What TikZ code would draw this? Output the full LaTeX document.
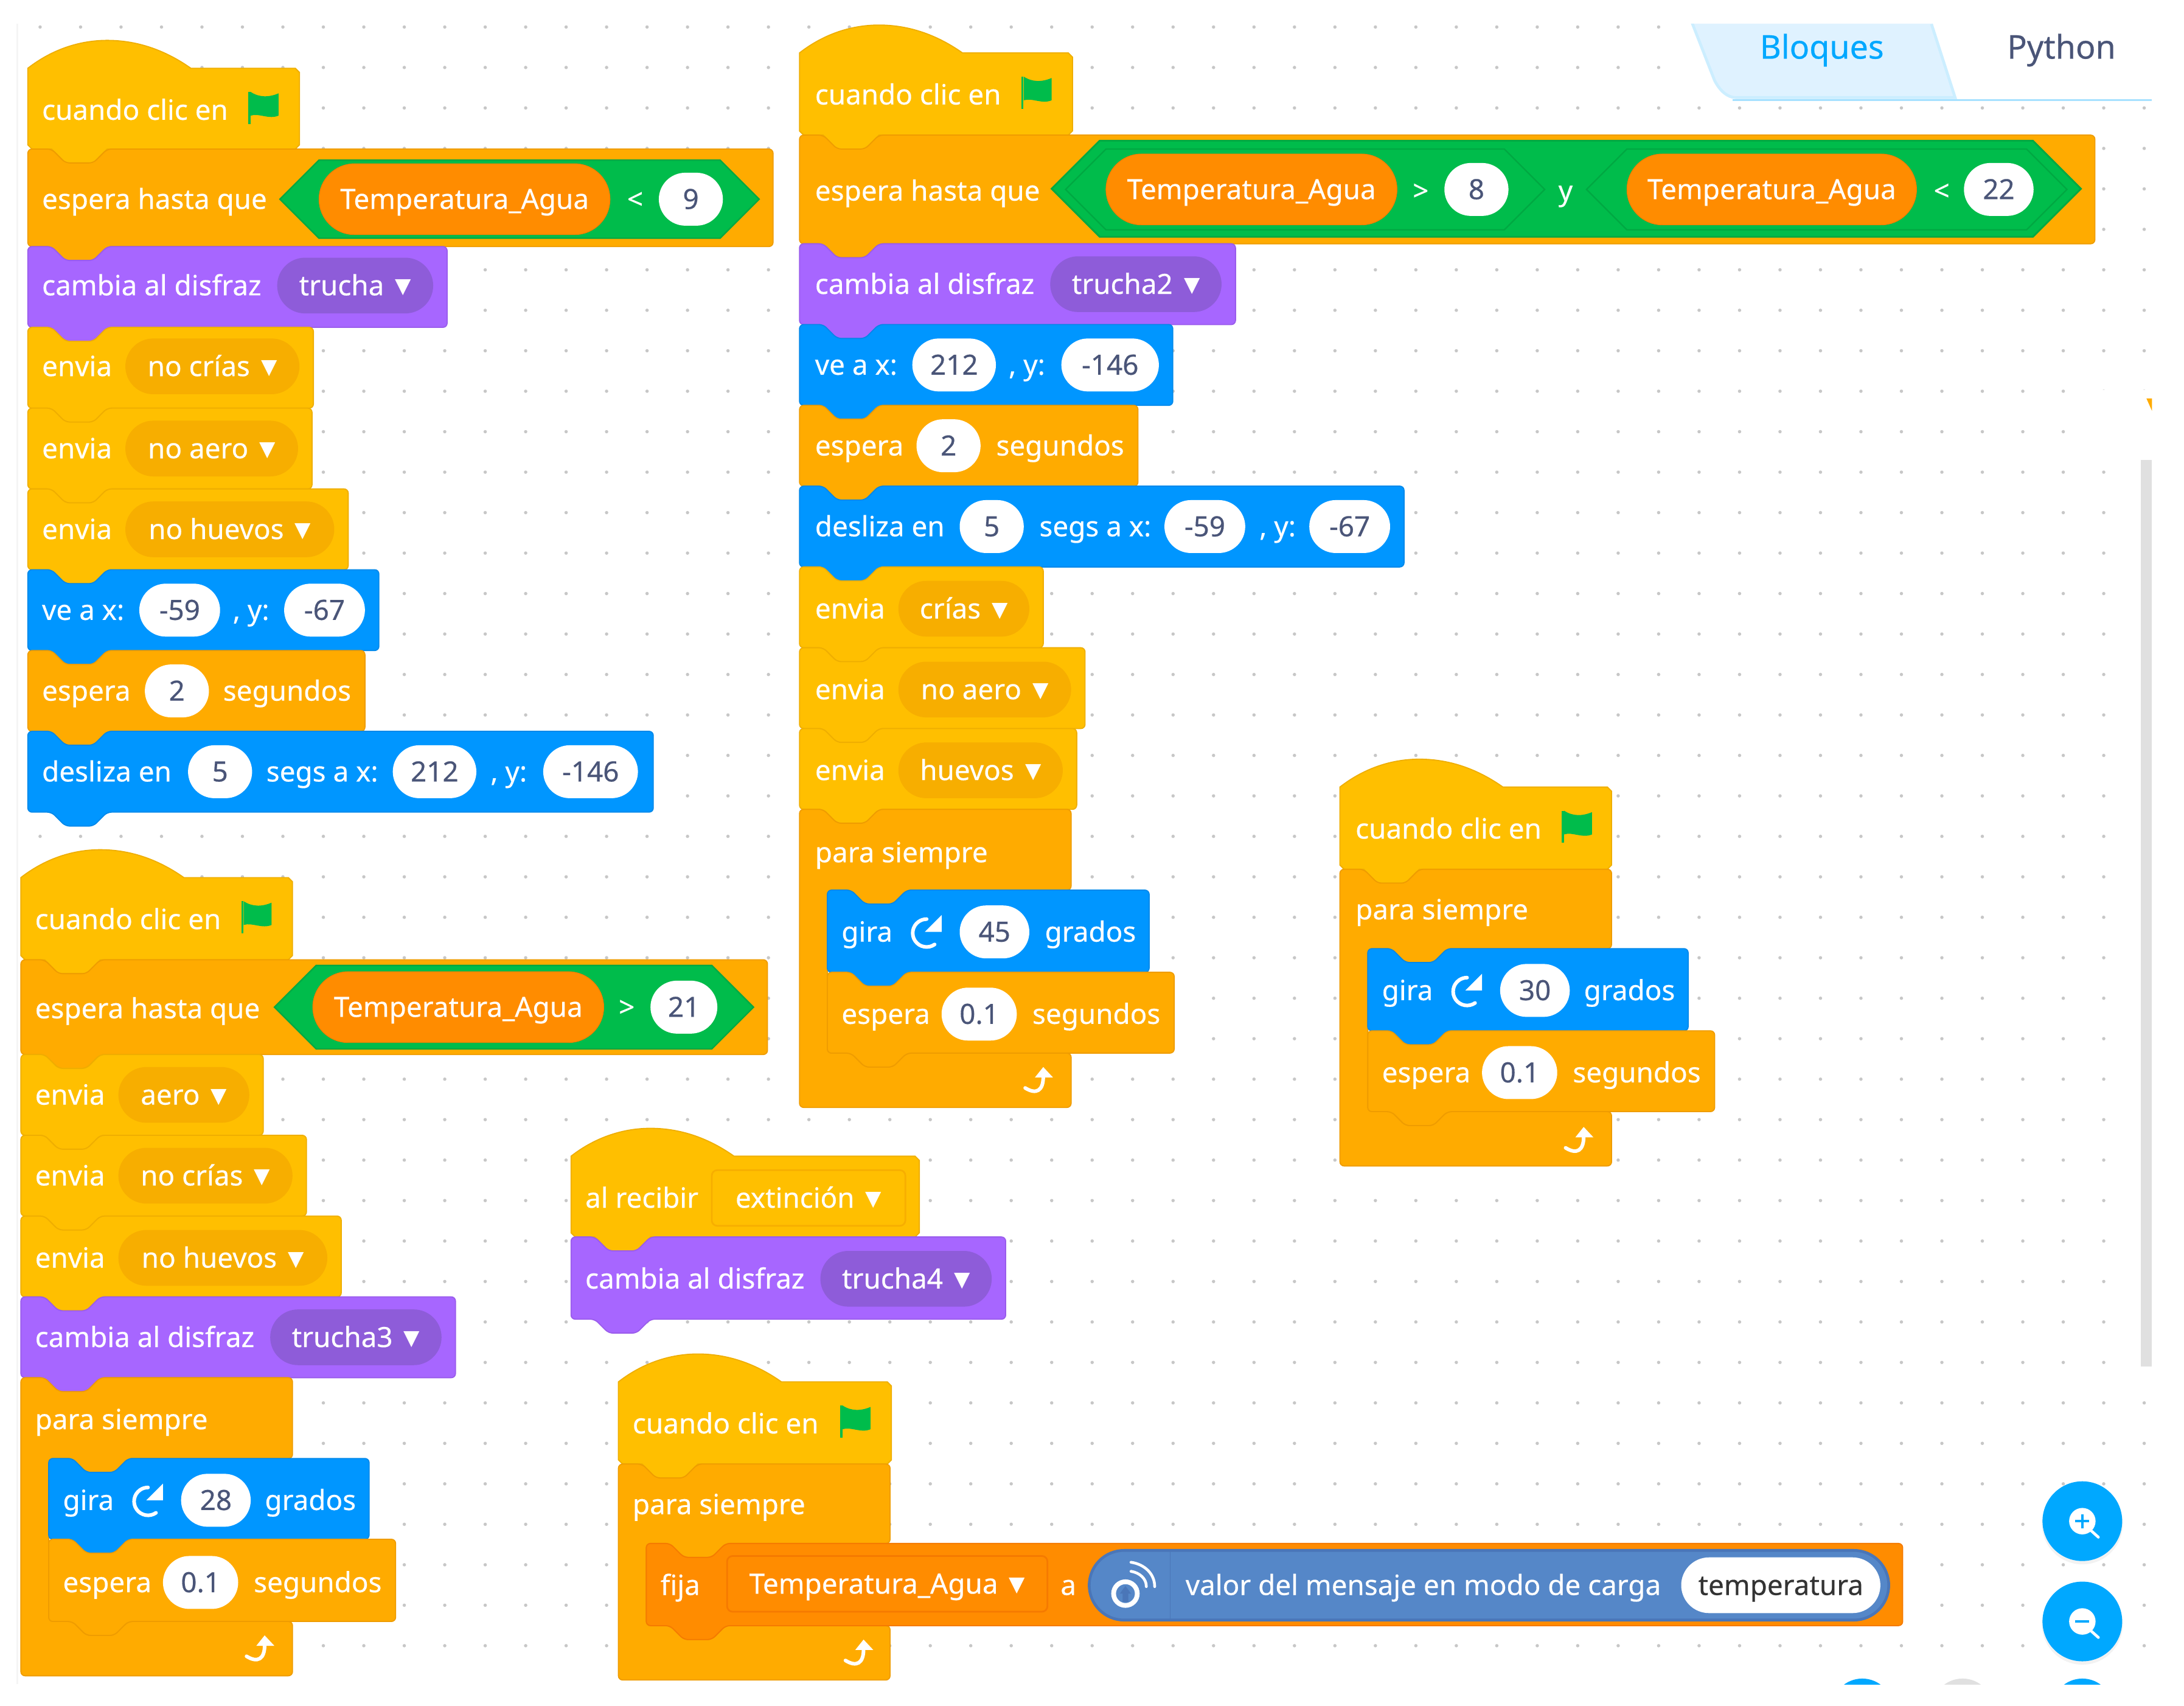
\documentclass[tikz,border=0pt]{standalone}
\usepackage{fontspec}
\setmainfont{Noto Sans}[RawFeature={embolden=0.4}]
\newfontfamily\symf{DejaVu Sans}
\usetikzlibrary{shapes.misc}

\definecolor{hatcol}{HTML}{FFBF00}
\definecolor{hatedge}{HTML}{EFAE00}
\definecolor{hatmenu}{HTML}{F7AE00}
\definecolor{ctrlcol}{HTML}{FFAB00}
\definecolor{ctrledge}{HTML}{EF9C00}
\definecolor{lookcol}{HTML}{A766FF}
\definecolor{lookedge}{HTML}{9A5CEC}
\definecolor{lookmenu}{HTML}{8E5CD9}
\definecolor{movecol}{HTML}{0096FF}
\definecolor{moveedge}{HTML}{0088EA}
\definecolor{opcol}{HTML}{00BC4B}
\definecolor{opedge}{HTML}{00A842}
\definecolor{varcol}{HTML}{FF8C00}
\definecolor{varedge}{HTML}{F57A00}
\definecolor{extcol}{HTML}{5587C8}
\definecolor{extedge}{HTML}{4A76B8}
\definecolor{numtext}{HTML}{4A5578}
\definecolor{tabblue}{HTML}{00A8FF}
\definecolor{tabfill}{HTML}{DFF2FF}

\tikzset{
  hatblk/.style={fill=hatcol,draw=hatedge,line width=.8pt},
  ctrlblk/.style={fill=ctrlcol,draw=ctrledge,line width=.8pt},
  lookblk/.style={fill=lookcol,draw=lookedge,line width=.8pt},
  moveblk/.style={fill=movecol,draw=moveedge,line width=.8pt},
  varblk/.style={fill=varcol,draw=varedge,line width=.8pt},
  blktxt/.style={inner sep=0pt,text height=17pt,text depth=3pt,font=\fontsize{20}{25}\selectfont},
  lbl/.style={anchor=base west,inner sep=0pt,text=white,yshift=-7pt,font=\fontsize{20}{25}\selectfont},
  lblmid/.style={lbl,anchor=base},
  numin/.style={blktxt,rounded rectangle,fill=white,text=numtext,minimum height=38pt},
  menu/.style={blktxt,rounded rectangle,minimum height=40pt,text=white},
  menubox/.style={blktxt,rectangle,rounded corners=4pt,minimum height=40pt,text=white},
  varpill/.style={blktxt,rounded rectangle,fill=varcol,draw=varedge,minimum height=51pt,text=white},
  tabtxt/.style={inner sep=0pt,font=\fontsize{23.5}{30}\selectfont},
  icon/.style={white,line width=2.6pt,line cap=round},
}

\newcommand{\tri}{\hspace{8pt}\raisebox{1.5pt}{\symf\fontsize{15}{15}\selectfont ▼}}

% stack block: style, left, top, right, bottom
\newcommand{\stmt}[5]{\draw[#1,rounded corners=3pt] (#2,#3) -- (#2+17,#3) -- (#2+27,#3+10) -- (#2+47,#3+10) -- (#2+57,#3) -- (#4,#3) -- (#4,#5) -- (#2+57,#5) -- (#2+47,#5+10) -- (#2+27,#5+10) -- (#2+17,#5) -- (#2,#5) -- cycle;}
% hat block: left, top, right, bottom
\newcommand{\hatb}[4]{\draw[hatblk] (#1,#2+20) .. controls (#1+18,#2+6) and (#1+38,#2) .. (#1+57,#2) .. controls (#1+80,#2) and (#1+100,#2+8) .. (#1+117,#2+20) -- (#3-3,#2+20) -- (#3,#2+23) -- (#3,#4-3) -- (#3-3,#4) -- (#1+57,#4) -- (#1+47,#4+10) -- (#1+27,#4+10) -- (#1+17,#4) -- (#1+3,#4) -- (#1,#4-3) -- cycle;}
% forever block: left, top, right, head bottom, foot top, bottom
\newcommand{\loopb}[6]{\draw[ctrlblk,rounded corners=3pt] (#1,#2) -- (#1+17,#2) -- (#1+27,#2+10) -- (#1+47,#2+10) -- (#1+57,#2) -- (#3,#2) -- (#3,#4) -- (#1+77,#4) -- (#1+67,#4+10) -- (#1+47,#4+10) -- (#1+37,#4) -- (#1+20,#4) -- (#1+20,#5) -- (#1+37,#5) -- (#1+47,#5+10) -- (#1+67,#5+10) -- (#1+77,#5) -- (#3,#5) -- (#3,#6) -- (#1,#6) -- cycle;}
% boolean hexagon: left tip, right tip, top, bottom
\newcommand{\hexa}[5]{\draw[#5] (#1,#3/2+#4/2) -- (#1+#4/2-#3/2,#3) -- (#2-#4/2+#3/2,#3) -- (#2,#3/2+#4/2) -- (#2-#4/2+#3/2,#4) -- (#1+#4/2-#3/2,#4) -- cycle;}
\newcommand{\flag}[2]{
  \draw[opcol,line width=1.6pt] (#1-10,#2+11) -- (#1-10,#2-12);
  \fill[opcol] (#1-9,#2-12) .. controls (#1-3,#2-8) and (#1+4,#2-8) .. (#1+11,#2-11) -- (#1+11,#2+5) .. controls (#1+4,#2+8) and (#1-3,#2+3) .. (#1-9,#2+5) -- cycle;}
\newcommand{\turnic}[2]{
  \draw[icon] (#1+6,#2+9) arc[start angle=-55,end angle=-270,radius=10pt];
  \fill[white] (#1+11,#2-12) -- (#1+11,#2) -- (#1-1,#2) -- cycle;}
\newcommand{\repic}[2]{
  \draw[icon] (#1-9,#2+5) .. controls (#1-1,#2+10) and (#1+4,#2+7) .. (#1+4,#2-3);
  \fill[white] (#1+4,#2-10) -- (#1+11,#2-2.5) -- (#1-2,#2-2.5) -- cycle;}
\newcommand{\magn}[2]{
  \fill[white] (#1,#2) circle[radius=9.5pt];
  \draw[white,line width=2pt,line cap=round] (#1+6.5,#2+7) -- (#1+11.5,#2+11.5);}

\begin{document}
\begin{tikzpicture}[x=1pt,y=-1pt]
  \useasboundingbox (0,0) rectangle (1568,1224.7);
  \fill[white] (0,0) rectangle (1568,1224.7);
  % background dots
  \foreach \i in {0,...,52}
    \foreach \j in {0,...,40}
      \fill[black!22] (28.8+\i*29.05,19.4+\j*29.05) circle[radius=1.2pt];
  \fill[white] (1206,0) rectangle (1568,73);
  \fill[white] (1490,280) rectangle (1568,330);
  \fill[white] (1545.5,0) rectangle (1568,1224.7);
  \fill[white] (0,1209) rectangle (1568,1224.7);
  \draw[black!4,line width=1pt] (12.5,17) -- (12.5,1209);
  \fill[black!12] (1537,330) rectangle (1545,981);
  \fill[ctrlcol] (1541,286) -- (1545,286) -- (1545,295) -- cycle;
  % tabs
  \begin{scope}
    \clip (1214,17) -- (1230,58) .. controls (1234,66) and (1240,71) .. (1246,71) -- (1405,71) -- (1387.6,17) -- cycle;
    \fill[tabfill] (1200,10) rectangle (1420,80);
    \draw[tabblue!20,line width=4pt] (1214,17) -- (1230,58) .. controls (1234,66) and (1240,71) .. (1246,71) -- (1405,71) -- (1387.6,17);
  \end{scope}
  \draw[tabblue!35,line width=1.2pt] (1244,72) -- (1545,72);
  \node[tabtxt,text=tabblue] (bloques) at (1308,36) {Bloques};
  \node[tabtxt,text=numtext] (python) at (1480,36) {Python};

  % stack A
  \hatb{20}{29}{215}{107}
  \stmt{ctrlblk}{20}{107}{555}{177}
  \stmt{lookblk}{20}{177}{321}{235}
  \stmt{hatblk}{20}{235}{225}{293}
  \stmt{hatblk}{20}{293}{224}{351}
  \stmt{hatblk}{20}{351}{250}{409}
  \stmt{moveblk}{20}{409}{272}{467}
  \stmt{ctrlblk}{20}{467}{262}{525}
  \stmt{moveblk}{20}{525}{469}{583}
  \node[lbl] (a1) at (30,79) {cuando clic en};
  \flag{189}{78}
  \node[lbl] (a2) at (30,143) {espera hasta que};
  \hexa{201}{545}{115}{171}{fill=opcol,draw=opedge,line width=1pt}
  \node[varpill,minimum width=209pt] (a3) at (333.5,143) {Temperatura\_Agua};
  \node[lblmid] (a4) at (456,143) {<};
  \node[numin,minimum width=46pt] (a5) at (496,143) {9};
  \node[lbl] (a6) at (30,205) {cambia al disfraz};
  \node[menu,fill=lookmenu,minimum width=112pt] (a7) at (255,205) {trucha\tri};
  \node[lbl] (a8) at (30,263) {envia};
  \node[menu,fill=hatmenu,minimum width=125pt] (a9) at (152.5,263) {no crías\tri};
  \node[lbl] (a10) at (30,322) {envia};
  \node[menu,fill=hatmenu,minimum width=124pt] (a11) at (152,322) {no aero\tri};
  \node[lbl] (a12) at (30,380) {envia};
  \node[menu,fill=hatmenu,minimum width=150pt] (a13) at (165,380) {no huevos\tri};
  \node[lbl] (a14) at (30,438) {ve a x:};
  \node[numin,minimum width=58pt] (a15) at (129,438) {-59};
  \node[lbl] (a16) at (167,438) {, y:};
  \node[numin,minimum width=58pt] (a17) at (233,438) {-67};
  \node[lbl] (a18) at (30,496) {espera};
  \node[numin,minimum width=46pt] (a19) at (127,496) {2};
  \node[lbl] (a20) at (160,496) {segundos};
  \node[lbl] (a21) at (30,554) {desliza en};
  \node[numin,minimum width=46pt] (a22) at (158,554) {5};
  \node[lbl] (a23) at (191,554) {segs a x:};
  \node[numin,minimum width=60pt] (a24) at (312,554) {212};
  \node[lbl] (a25) at (352,554) {, y:};
  \node[numin,minimum width=68pt] (a26) at (424,554) {-146};

  % stack B
  \hatb{15}{610}{210}{689}
  \stmt{ctrlblk}{15}{689}{551}{757}
  \stmt{hatblk}{15}{757}{189}{815}
  \stmt{hatblk}{15}{815}{220}{873}
  \stmt{hatblk}{15}{873}{245}{931}
  \stmt{lookblk}{15}{931}{327}{989}
  \loopb{15}{989}{210}{1047}{1164}{1203}
  \stmt{moveblk}{35}{1047}{265}{1105}
  \stmt{ctrlblk}{35}{1105}{284}{1164}
  \node[lbl] (b1) at (25,660) {cuando clic en};
  \flag{184}{659}
  \node[lbl] (b2) at (25,724) {espera hasta que};
  \hexa{197}{541}{693}{753}{fill=opcol,draw=opedge,line width=1pt}
  \node[varpill,minimum width=209pt] (b3) at (329,723) {Temperatura\_Agua};
  \node[lblmid] (b4) at (450,723) {>};
  \node[numin,minimum width=48pt] (b5) at (491,723) {21};
  \node[lbl] (b6) at (25,786) {envia};
  \node[menu,fill=hatmenu,minimum width=94pt] (b7) at (132,786) {aero\tri};
  \node[lbl] (b8) at (25,844) {envia};
  \node[menu,fill=hatmenu,minimum width=125pt] (b9) at (147.5,844) {no crías\tri};
  \node[lbl] (b10) at (25,903) {envia};
  \node[menu,fill=hatmenu,minimum width=150pt] (b11) at (160,903) {no huevos\tri};
  \node[lbl] (b12) at (25,960) {cambia al disfraz};
  \node[menu,fill=lookmenu,minimum width=123pt] (b13) at (255.5,960) {trucha3\tri};
  \node[lbl] (b14) at (25,1019) {para siempre};
  \node[lbl] (b15) at (45,1077) {gira};
  \turnic{106}{1077}
  \node[numin,minimum width=50pt] (b16) at (155,1077) {28};
  \node[lbl] (b17) at (190,1077) {grados};
  \node[lbl] (b18) at (45,1136) {espera};
  \node[numin,minimum width=54pt] (b19) at (144,1136) {0.1};
  \node[lbl] (b20) at (182,1136) {segundos};
  \repic{186}{1184}

  % stack C
  \hatb{574}{18}{770}{97}
  \stmt{ctrlblk}{574}{97}{1504}{175}
  \stmt{lookblk}{574}{175}{887}{233}
  \stmt{moveblk}{574}{233}{842}{291}
  \stmt{ctrlblk}{574}{291}{817}{349}
  \stmt{moveblk}{574}{349}{1008}{407}
  \stmt{hatblk}{574}{407}{749}{465}
  \stmt{hatblk}{574}{465}{779}{523}
  \stmt{hatblk}{574}{523}{773}{581}
  \loopb{574}{581}{769}{639}{756}{795}
  \stmt{moveblk}{594}{639}{825}{698}
  \stmt{ctrlblk}{594}{698}{843}{756}
  \node[lbl] (c1) at (585,68) {cuando clic en};
  \flag{744}{67}
  \node[lbl] (c2) at (585,137) {espera hasta que};
  \hexa{755}{1494}{101}{170}{fill=opcol,draw=opedge,line width=1.2pt}
  \hexa{765}{1109}{107}{165}{fill=opcol,draw=opedge,line width=1pt}
  \hexa{1139}{1484}{107}{165}{fill=opcol,draw=opedge,line width=1pt}
  \node[varpill,minimum width=209pt] (c3) at (898.5,136) {Temperatura\_Agua};
  \node[lblmid] (c4) at (1020,137) {>};
  \node[numin,minimum width=46pt] (c5) at (1060,136) {8};
  \node[lblmid] (c6) at (1124,137) {y};
  \node[varpill,minimum width=208pt] (c7) at (1272,136) {Temperatura\_Agua};
  \node[lblmid] (c8) at (1394,137) {<};
  \node[numin,minimum width=50pt] (c9) at (1435,136) {22};
  \node[lbl] (c10) at (585,204) {cambia al disfraz};
  \node[menu,fill=lookmenu,minimum width=123pt] (c11) at (815.5,204) {trucha2\tri};
  \node[lbl] (c12) at (585,262) {ve a x:};
  \node[numin,minimum width=60pt] (c13) at (685,262) {212};
  \node[lbl] (c14) at (724,262) {, y:};
  \node[numin,minimum width=70pt] (c15) at (797,262) {-146};
  \node[lbl] (c16) at (585,320) {espera};
  \node[numin,minimum width=46pt] (c17) at (681,320) {2};
  \node[lbl] (c18) at (715,320) {segundos};
  \node[lbl] (c19) at (585,378) {desliza en};
  \node[numin,minimum width=46pt] (c20) at (712,378) {5};
  \node[lbl] (c21) at (746,378) {segs a x:};
  \node[numin,minimum width=58pt] (c22) at (865,378) {-59};
  \node[lbl] (c23) at (904,378) {, y:};
  \node[numin,minimum width=58pt] (c24) at (969,378) {-67};
  \node[lbl] (c25) at (585,437) {envia};
  \node[menu,fill=hatmenu,minimum width=94pt] (c26) at (692,437) {crías\tri};
  \node[lbl] (c27) at (585,495) {envia};
  \node[menu,fill=hatmenu,minimum width=124pt] (c28) at (707,495) {no aero\tri};
  \node[lbl] (c29) at (585,553) {envia};
  \node[menu,fill=hatmenu,minimum width=118pt] (c30) at (704,553) {huevos\tri};
  \node[lbl] (c31) at (585,612) {para siempre};
  \node[lbl] (c32) at (604,669) {gira};
  \turnic{665}{669}
  \node[numin,minimum width=50pt] (c33) at (714,669) {45};
  \node[lbl] (c34) at (750,669) {grados};
  \node[lbl] (c35) at (604,728) {espera};
  \node[numin,minimum width=54pt] (c36) at (703,728) {0.1};
  \node[lbl] (c37) at (741,728) {segundos};
  \repic{745}{776}

  % stack D
  \hatb{962}{545}{1157}{624}
  \loopb{962}{624}{1157}{681}{798}{837}
  \stmt{moveblk}{982}{681}{1212}{740}
  \stmt{ctrlblk}{982}{740}{1231}{798}
  \node[lbl] (d1) at (973,595) {cuando clic en};
  \flag{1132}{594}
  \node[lbl] (d2) at (973,653) {para siempre};
  \node[lbl] (d3) at (992,711) {gira};
  \turnic{1053}{711}
  \node[numin,minimum width=50pt] (d4) at (1102,711) {30};
  \node[lbl] (d5) at (1137,711) {grados};
  \node[lbl] (d6) at (992,770) {espera};
  \node[numin,minimum width=54pt] (d7) at (1091,770) {0.1};
  \node[lbl] (d8) at (1129,770) {segundos};
  \repic{1133}{819}

  % stack E
  \hatb{410}{810}{660}{888}
  \stmt{lookblk}{410}{888}{722}{947}
  \node[lbl] (e1) at (420,860) {al recibir};
  \node[menubox,fill=hatcol,draw=hatmenu,line width=1.2pt,minimum width=139pt] (e2) at (580.5,860) {extinción\tri};
  \node[lbl] (e3) at (420,918) {cambia al disfraz};
  \node[menu,fill=lookmenu,minimum width=123pt] (e4) at (650.5,918) {trucha4\tri};

  % stack F
  \hatb{444}{972}{640}{1051}
  \loopb{444}{1051}{639}{1108}{1167}{1206}
  \stmt{varblk}{464}{1108}{1366}{1167}
  \node[lbl] (f1) at (454,1022) {cuando clic en};
  \flag{614}{1021}
  \node[lbl] (f2) at (454,1080) {para siempre};
  \node[lbl] (f3) at (474,1138) {fija};
  \node[menubox,fill=varcol,draw=varedge,line width=1.2pt,minimum width=230pt] (f4) at (637,1137) {Temperatura\_Agua\tri};
  \node[lblmid] (f5) at (767,1138) {a};
  \node[rounded rectangle,fill=extcol,draw=extedge,line width=2pt,inner sep=0pt,minimum width=574pt,minimum height=50pt] (f6) at (1069,1138) {};
  \draw[extedge] (840,1113) -- (840,1163);
  \draw[icon,line width=3.4pt] (808,1144) circle[radius=8.5pt];
  \fill[extedge] (808,1138.5) -- (812,1144) -- (810,1144) -- (810,1150) -- (806,1150) -- (806,1144) -- (804,1144) -- cycle;
  \draw[icon,line width=2pt] (812,1128) .. controls (818,1129) and (823,1133) .. (823,1139);
  \draw[icon,line width=2pt] (812,1121.5) .. controls (822,1123) and (829,1130) .. (829,1139);
  \node[lbl] (f7) at (851,1138) {valor del mensaje en modo de carga};
  \node[numin,minimum width=143pt,minimum height=40pt,text=black!80] (f8) at (1278.5,1138) {temperatura};
  \repic{616}{1187}

  % zoom buttons
  \fill[black!5] (1495,1094) circle[radius=29pt];
  \fill[black!5] (1495,1166) circle[radius=29pt];
  \fill[tabblue] (1495,1092) circle[radius=28.6pt];
  \fill[tabblue] (1495,1164) circle[radius=28.6pt];
  \magn{1495}{1092}
  \draw[tabblue,line width=1.8pt] (1490,1092) -- (1500,1092) (1495,1087) -- (1495,1097);
  \magn{1495}{1164}
  \draw[tabblue,line width=1.8pt] (1490,1164) -- (1500,1164);
  \begin{scope}
    \clip (1300,1200) rectangle (1545,1209);
    \fill[tabblue] (1337,1227) circle[radius=22pt];
    \fill[black!12] (1409,1227) circle[radius=22pt];
    \fill[tabblue] (1495,1227) circle[radius=22pt];
  \end{scope}
\end{tikzpicture}
\end{document}
